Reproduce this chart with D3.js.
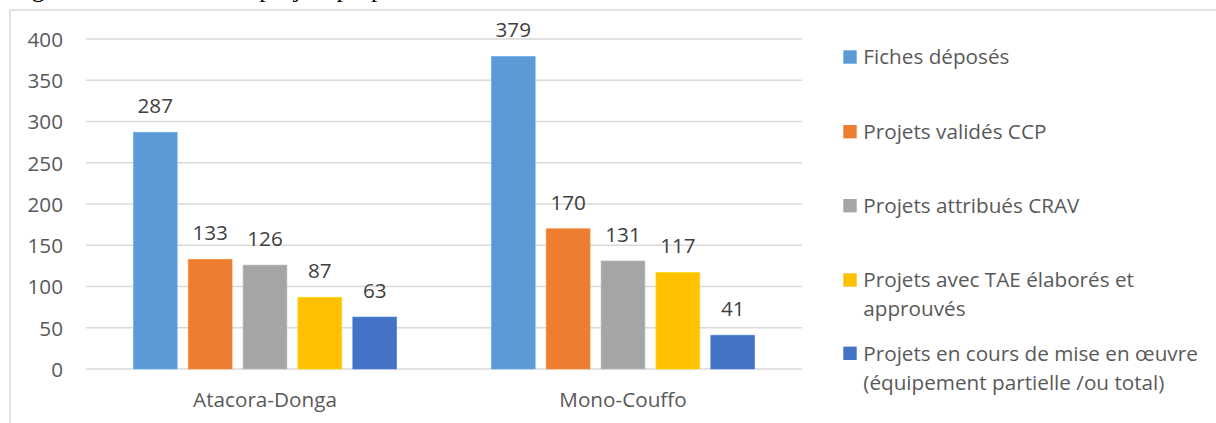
<!DOCTYPE html>
<html><head><meta charset="utf-8">
<script src="https://cdn.jsdelivr.net/npm/d3@7"></script>
<style>
html,body{margin:0;padding:0;background:#fff;overflow:hidden;}
svg{display:block;}
</style></head>
<body>
<svg id="chart" width="1216" height="423"></svg>
<script>
const categories = ["Atacora-Donga", "Mono-Couffo"];
const seriesNames = [
  ["Fiches déposés"],
  ["Projets validés CCP"],
  ["Projets attribués CRAV"],
  ["Projets avec TAE élaborés et", "approuvés"],
  ["Projets en cours de mise en œuvre", "(équipement partielle /ou total)"]
];
const seriesColors = ["#5B9BD5", "#ED7D31", "#A5A5A5", "#FFC000", "#4472C4"];
const values = [
  [287, 379],
  [133, 170],
  [126, 131],
  [87, 117],
  [63, 41]
];
const yTicks = [0, 50, 100, 150, 200, 250, 300, 350, 400];
const titleText = "Figure 1 : Situation des projets proposés";

(function () {
const FONT = "'Open Sans', 'Noto Sans', sans-serif";
const FS = 20.7;
const svg = d3.select("#chart");

// cut-off title (only descenders visible)
svg.append("text").attr("x", 10).attr("y", -3)
  .attr("font-family", "'Liberation Serif', serif").attr("font-size", 26)
  .attr("fill", "#000").text(titleText);

// chart border
svg.append("rect").attr("x", 10).attr("y", 10).attr("width", 1230).attr("height", 440)
  .attr("fill", "none").attr("stroke", "#d9d9d9").attr("stroke-width", 1.5);

const pl = 86, pr = 802, pt = 39, pb = 369;
const x0 = d3.scaleBand().domain(categories).range([pl, pr]).paddingInner(0).paddingOuter(0);
const x1 = d3.scaleBand().domain(d3.range(seriesNames.length)).range([47.3, 358 - 47.3]).paddingInner(0.2);
const y = d3.scaleLinear().domain([0, 400]).range([pb, pt]);

// gridlines
svg.append("g").selectAll("line").data(yTicks).join("line")
  .attr("x1", pl).attr("x2", pr)
  .attr("y1", d => y(d)).attr("y2", d => y(d))
  .attr("stroke", "#d9d9d9").attr("stroke-width", 1.3);

// y axis labels
const yAxis = d3.axisLeft(y).tickValues(yTicks).tickSize(0).tickPadding(0);
const ga = svg.append("g").attr("transform", `translate(63,0)`).call(yAxis);
ga.select(".domain").remove();
ga.selectAll("text").attr("font-family", FONT).attr("font-size", FS).attr("fill", "#595959")
  .attr("dy", "0.36em");

// x axis labels
const xAxis = d3.axisBottom(x0).tickSize(0).tickPadding(0);
const gx = svg.append("g").attr("transform", `translate(0,${pb})`).call(xAxis);
gx.select(".domain").remove();
gx.selectAll("text").attr("font-family", FONT).attr("font-size", FS).attr("fill", "#595959")
  .attr("dy", 0).attr("y", 38);

// bars
categories.forEach((cat, ci) => {
  const g = svg.append("g").attr("transform", `translate(${x0(cat)},0)`);
  values.forEach((vals, si) => {
    const v = vals[ci];
    g.append("rect").attr("x", x1(si)).attr("width", x1.bandwidth())
      .attr("y", y(v)).attr("height", y(0) - y(v))
      .attr("fill", seriesColors[si]).attr("stroke", d3.color(seriesColors[si]).brighter(0.4)).attr("stroke-width", 0.6);
    g.append("text").attr("x", x1(si) + x1.bandwidth() / 2).attr("y", y(v) - 19)
      .attr("text-anchor", "middle").attr("font-family", FONT).attr("font-size", FS)
      .attr("fill", "#404040").text(v);
  });
});

// legend
const legendRows = [57, 131.7, 205.7, 280, 353.3];
seriesNames.forEach((lines, i) => {
  const cy = legendRows[i];
  svg.append("rect").attr("x", 843.3).attr("y", cy - 6.7).attr("width", 13.4).attr("height", 13.4)
    .attr("fill", seriesColors[i]);
  const t = svg.append("text").attr("font-family", FONT).attr("font-size", FS).attr("fill", "#595959");
  lines.forEach((ln, li) => {
    t.append("tspan").attr("x", 863.3).attr("y", cy + li * 29).attr("dy", "0.36em").text(ln);
  });
});
})();
</script>
</body></html>
